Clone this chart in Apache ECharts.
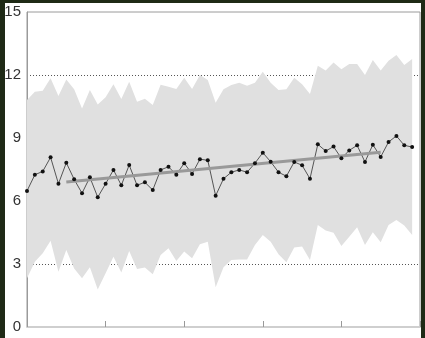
<!DOCTYPE html>
<html>
<head>
<meta charset="utf-8">
<script src="https://cdn.jsdelivr.net/npm/echarts@6/dist/echarts.min.js"></script>
<style>
  html, body { margin: 0; padding: 0; }
  body { width: 425px; height: 338px; background: #1f2a16; position: relative; overflow: hidden; }
  #chart { position: absolute; left: 5px; top: 3px; width: 416px; height: 335px; background: #fff; }
</style>
</head>
<body>
<div id="chart"></div>
<script>
// x steps 0..50 (no labels shown, ticks every 10)
const steps = ["0", "1", "2", "3", "4", "5", "6", "7", "8", "9",
  "10", "11", "12", "13", "14", "15", "16", "17", "18", "19",
  "20", "21", "22", "23", "24", "25", "26", "27", "28", "29",
  "30", "31", "32", "33", "34", "35", "36", "37", "38", "39",
  "40", "41", "42", "43", "44", "45", "46", "47", "48", "49", "50"]

// observed series
const values = [6.48, 7.25, 7.41, 8.08, 6.82, 7.82, 7.03, 6.37, 7.13, 6.18,
  6.82, 7.48, 6.75, 7.71, 6.75, 6.89, 6.52, 7.48, 7.63, 7.25,
  7.80, 7.29, 7.99, 7.94, 6.25, 7.06, 7.37, 7.48, 7.37, 7.80,
  8.30, 7.87, 7.37, 7.18, 7.86, 7.70, 7.06, 8.70, 8.38, 8.59,
  8.03, 8.41, 8.65, 7.86, 8.68, 8.10, 8.81, 9.10, 8.65, 8.57]

// band upper / lower edges
const upper = [10.81, 11.20, 11.25, 11.84, 11.00, 11.79, 11.32, 10.41, 11.29, 10.60,
  10.94, 11.56, 10.86, 11.68, 10.73, 10.87, 10.57, 11.54, 11.44, 11.33,
  11.87, 11.33, 12.00, 11.76, 10.68, 11.32, 11.52, 11.63, 11.49, 11.63,
  12.16, 11.63, 11.29, 11.32, 11.87, 11.56, 11.10, 12.44, 12.21, 12.59,
  12.27, 12.52, 12.52, 12.00, 12.71, 12.21, 12.68, 12.95, 12.48, 12.76]
const lower = [2.32, 3.11, 3.51, 4.11, 2.63, 3.67, 2.79, 2.32, 2.84, 1.79,
  2.56, 3.35, 2.60, 3.62, 2.76, 2.83, 2.51, 3.43, 3.75, 3.14,
  3.59, 3.27, 3.94, 4.06, 1.89, 2.84, 3.19, 3.22, 3.22, 3.90,
  4.38, 4.06, 3.46, 3.08, 3.79, 3.83, 3.19, 4.86, 4.59, 4.49,
  3.86, 4.30, 4.75, 3.90, 4.51, 4.03, 4.86, 5.10, 4.83, 4.38]

// trend line ends
const trendX = [5, 45]
const trendY = [6.90, 8.32]

// trend as a sparse array, joined with connectNulls
const trendData = values.map(() => null)
trendX.forEach((x, i) => { trendData[x] = trendY[i] })

const chart = echarts.init(document.getElementById("chart"))

const option = {
  animation: false,
  grid: {
    left: 22,
    right: 1,
    top: 9,
    bottom: 11,
    containLabel: false,
    outerBoundsMode: "none",
    show: true,
    borderColor: "#9a9a9a",
    borderWidth: 1,
  },
  xAxis: {
    type: "category",
    data: steps,
    boundaryGap: false,
    axisLine: { lineStyle: { color: "#cfcfcf", width: 2 } },
    axisTick: { inside: true, length: 6, interval: 9, lineStyle: { color: "#999" } },
    axisLabel: { show: false },
    splitLine: { show: false },
  },
  yAxis: {
    type: "value",
    min: 0,
    max: 15,
    interval: 3,
    axisLine: { show: true, lineStyle: { color: "#9a9a9a" } },
    axisTick: { show: false },
    axisLabel: {
      color: "#333",
      fontSize: 15,
      fontFamily: "Liberation Sans, Arial, sans-serif",
      margin: 6,
    },
    splitLine: {
      show: true,
      lineStyle: {
        color: ["transparent", "#555", "transparent", "transparent", "#555", "transparent"],
        type: [1, 2],
        width: 1,
      },
    },
  },
  series: [
    {
      type: "line",
      stack: "band",
      data: lower,
      symbol: "none",
      lineStyle: { opacity: 0 },
      areaStyle: { opacity: 0 },
      silent: true,
    },
    {
      type: "line",
      stack: "band",
      data: upper.map((u, i) => u - lower[i]),
      symbol: "none",
      lineStyle: { opacity: 0 },
      areaStyle: { color: "#e0e0e0", opacity: 1 },
      silent: true,
    },
    {
      type: "line",
      data: values,
      symbol: "circle",
      symbolSize: 4,
      itemStyle: { color: "#111" },
      lineStyle: { color: "#555", width: 1 },
    },
    {
      type: "line",
      data: trendData,
      connectNulls: true,
      symbol: "none",
      lineStyle: { color: "#999", width: 3 },
      z: 3,
    },
  ],
}

chart.setOption(option)
</script>
</body>
</html>
